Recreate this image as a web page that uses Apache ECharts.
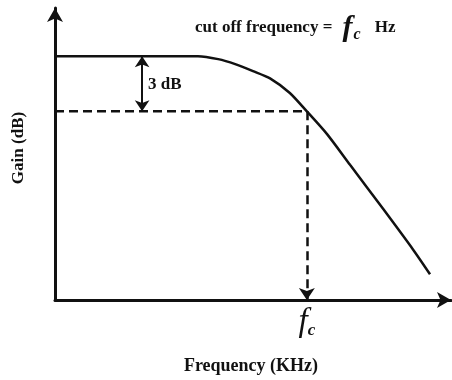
<!DOCTYPE html>
<html>
<head>
<meta charset="utf-8">
<script src="https://cdn.jsdelivr.net/npm/echarts@6/dist/echarts.min.js"></script>
<style>html,body{margin:0;padding:0;background:#fff;}#c{width:452px;height:380px;}</style>
</head>
<body>
<div id="c"></div>
<script>
// Frequency response (arbitrary units)
const freq = [0, 20, 36.1, 41.2, 45.5, 50.0, 54.3, 59.3, 63.6, 68.7, 74.5, 82.8, 90.4, 94.7];
const gain = [83.5, 83.5, 83.5, 82.5, 80.8, 78.4, 75.9, 70.9, 64.6, 56.8, 46.3, 31.3, 17.3, 8.8];
const passbandGain = 83.5;
const cutoffGain = 64.6;
const cutoffFreq = 63.6;
const dbMarkerFreq = 22.0;
const dbLabelGain = 73.8;
const xName = 'Frequency (KHz)';
const yName = 'Gain (dB)';
const dbLabel = '3 dB';

const FONT = '"Liberation Serif", "Times New Roman", serif';
const INK = '#111';

const chart = echarts.init(document.getElementById('c'), null, {renderer: 'canvas'});
chart.setOption({
  animation: false,
  backgroundColor: '#fff',
  title: {
    left: 190, top: 8,
    text: '{a|cut off frequency = }{f|f}{c|c}{b|Hz}',
    textStyle: {
      rich: {
        a: {fontFamily: FONT, fontWeight: 'bold', fontSize: 17, color: INK},
        f: {fontFamily: FONT, fontStyle: 'italic', fontSize: 30, color: INK, padding: [0, 0, 0, 6]},
        c: {fontFamily: FONT, fontStyle: 'italic', fontWeight: 'bold', fontSize: 16, color: INK, verticalAlign: 'bottom', padding: [10, 14, 0, 1]},
        b: {fontFamily: FONT, fontWeight: 'bold', fontSize: 17, color: INK}
      }
    }
  },
  grid: {left: 55, right: 1, top: 8, bottom: 78},
  xAxis: {
    type: 'value', min: 0, max: 100,
    name: xName, nameLocation: 'middle', nameGap: 57,
    nameTextStyle: {fontFamily: FONT, fontWeight: 'bold', fontSize: 18, color: INK, padding: [0, 4, 0, 0]},
    axisLine: {show: true, symbol: ['none', 'arrow'], symbolSize: [12, 14], lineStyle: {color: INK, width: 3}},
    axisTick: {show: false}, axisLabel: {show: false}, splitLine: {show: false}
  },
  yAxis: {
    type: 'value', min: 0, max: 100,
    name: yName, nameLocation: 'middle', nameGap: 28, nameRotate: 90,
    nameTextStyle: {fontFamily: FONT, fontWeight: 'bold', fontSize: 17, color: INK, padding: [0, 0, 0, 12]},
    axisLine: {show: true, symbol: ['none', 'arrow'], symbolSize: [12, 14], lineStyle: {color: INK, width: 3}},
    axisTick: {show: false}, axisLabel: {show: false}, splitLine: {show: false}
  },
  series: [
    {
      type: 'line',
      data: freq.map((f, i) => [f, gain[i]]),
      smooth: 0.25,
      symbol: 'none',
      lineStyle: {color: INK, width: 2.5},
      z: 5
    },
    {
      type: 'line',
      data: [[0, cutoffGain], [cutoffFreq, cutoffGain]],
      symbol: 'none',
      lineStyle: {color: INK, width: 2.5, type: [9, 5]},
      markLine: {
        silent: true,
        animation: false,
        lineStyle: {color: INK, width: 2.5, type: [9, 5]},
        data: [
          [
            {coord: [cutoffFreq, cutoffGain], symbol: 'none'},
            {coord: [cutoffFreq, 0], symbol: 'arrow', symbolSize: 12,
             label: {
               show: true, position: 'end', distance: 6,
               formatter: '{f|f}{c|c}',
               rich: {
                 f: {fontFamily: FONT, fontStyle: 'italic', fontSize: 33, color: INK},
                 c: {fontFamily: FONT, fontStyle: 'italic', fontWeight: 'bold', fontSize: 17, color: INK, verticalAlign: 'bottom', padding: [10, 0, 0, 0]}
               }
             }}
          ],
          [
            {coord: [dbMarkerFreq, passbandGain], symbol: 'arrow', symbolSize: 11},
            {coord: [dbMarkerFreq, cutoffGain], symbol: 'arrow', symbolSize: 11,
             lineStyle: {type: 'solid', width: 2}, label: {show: false}}
          ]
        ]
      }
    },
    {
      type: 'scatter',
      data: [[dbMarkerFreq, dbLabelGain]],
      symbolSize: 0,
      itemStyle: {opacity: 1, color: INK},
      label: {
        show: true, position: 'right', distance: 6,
        formatter: dbLabel,
        fontFamily: FONT, fontWeight: 'bold', fontSize: 17, color: INK
      }
    }
  ]
});
</script>
</body>
</html>
